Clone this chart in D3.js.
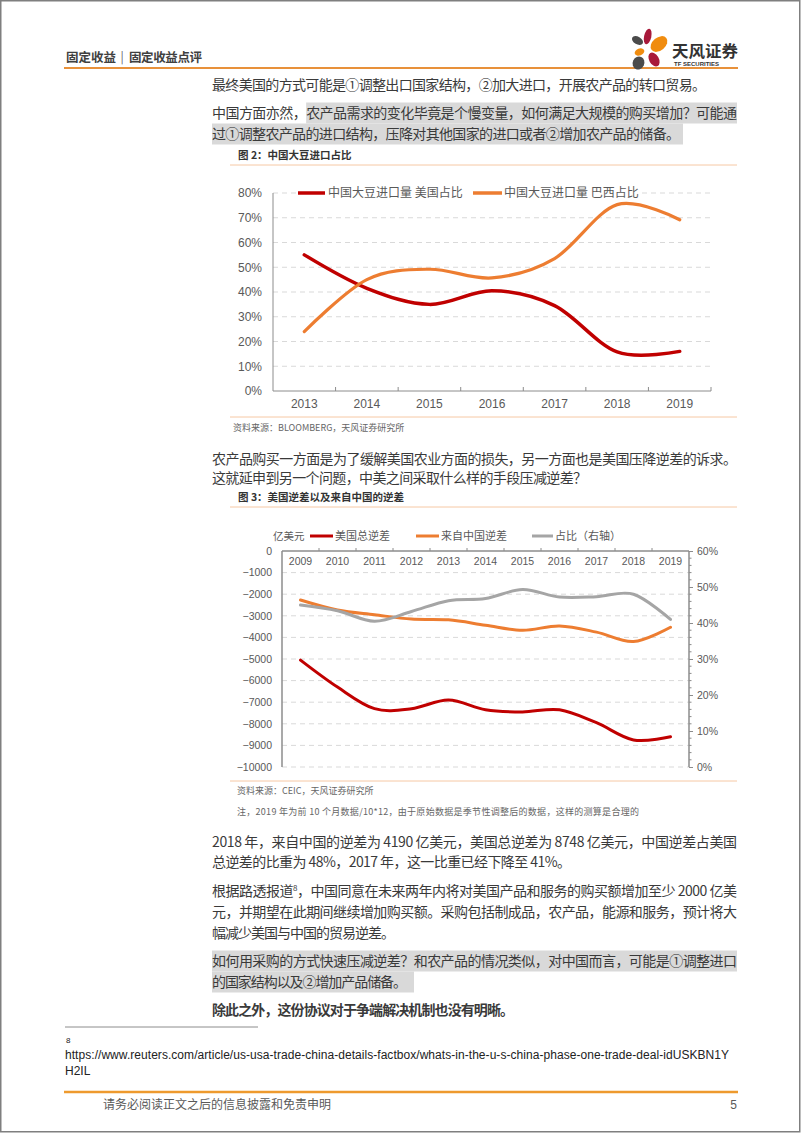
<!DOCTYPE html>
<html><head><meta charset="utf-8">
<script src="https://cdn.jsdelivr.net/npm/d3@7"></script>
<style>
html,body{margin:0;padding:0;background:#fff;}
svg{display:block;}
</style></head>
<body>
<svg id="page" width="802" height="1133"></svg>
<script>
// ---------- DATA ----------
const soyYears = ["2013","2014","2015","2016","2017","2018","2019"];
const soyUS = [0.55, 0.415, 0.35, 0.405, 0.345, 0.158, 0.16];
const soyBrazil = [0.24, 0.45, 0.492, 0.457, 0.535, 0.753, 0.692];
const soyTicks = [0, 0.1, 0.2, 0.3, 0.4, 0.5, 0.6, 0.7, 0.8];
const soyLegend = ["中国大豆进口量 美国占比", "中国大豆进口量 巴西占比"];

const defYears = ["2009","2010","2011","2012","2013","2014","2015","2016","2017","2018","2019"];
const defTotal = [-5050, -6300, -7300, -7300, -6900, -7350, -7450, -7350, -7950, -8748, -8600];
const defChina = [-2268, -2731, -2951, -3151, -3187, -3434, -3672, -3470, -3756, -4190, -3530];
const defShare = [0.45, 0.434, 0.405, 0.432, 0.462, 0.468, 0.493, 0.472, 0.473, 0.48, 0.41];
const defLeftTicks = [0, -1000, -2000, -3000, -4000, -5000, -6000, -7000, -8000, -9000, -10000];
const defRightTicks = [0, 0.1, 0.2, 0.3, 0.4, 0.5, 0.6];
const defLegend = ["美国总逆差", "来自中国逆差", "占比（右轴）"];
const defUnit = "亿美元";

// ---------- SETUP ----------
const svg = d3.select("#page");
const CJK = '"Noto Sans CJK SC", "Noto Sans", sans-serif';
const ARIAL = '"Liberation Sans", Arial, "Noto Sans CJK SC", sans-serif';
const RED = "#C00000", ORANGE = "#ED7D31", GRAY = "#A5A5A5";
const TXT = "#3a3a3a", LBL = "#595959";

// page frame
svg.append("rect").attr("x",0.75).attr("y",0.75).attr("width",799).attr("height",1131)
  .attr("fill","none").attr("stroke","#7f7f7f").attr("stroke-width",1.5);

// ---------- HEADER ----------
const hdr = svg.append("g").attr("font-family",CJK).attr("font-size",12.5).attr("fill","#404040");
hdr.append("text").attr("x",66).attr("y",61.5).attr("font-weight","bold").text("固定收益");
hdr.append("text").attr("x",122).attr("y",61).attr("font-size",12).attr("fill","#666").attr("text-anchor","middle").text("|");
hdr.append("text").attr("x",129).attr("y",61.5).attr("font-weight","bold").attr("textLength",73).attr("lengthAdjust","spacing").text("固定收益点评");
svg.append("line").attr("x1",64).attr("x2",738).attr("y1",68).attr("y2",68)
  .attr("stroke","#E8913A").attr("stroke-width",2);
// logo
const logo = svg.append("g");
[
  {cx:647.7, cy:36.5, rx:3.6, ry:8, r:12, c:"#A8193A"},
  {cx:659,   cy:44,   rx:9.5, ry:6.5, r:-40, c:"#F08C0F"},
  {cx:637.5, cy:40.5, rx:6,   ry:3.8, r:30, c:"#4B4B4B"},
  {cx:639.5, cy:52,   rx:5,   ry:3.4, r:-20, c:"#F08C0F"},
  {cx:654,   cy:59.5, rx:4.8, ry:7.5, r:-30, c:"#A8193A"},
  {cx:638.5, cy:63,   rx:5.8, ry:6.5, r:25, c:"#4B4B4B"}
].forEach(p => {
  logo.append("ellipse").attr("cx",0).attr("cy",0).attr("rx",p.rx).attr("ry",p.ry)
    .attr("fill",p.c).attr("transform",`translate(${p.cx},${p.cy}) rotate(${p.r})`);
});
logo.append("text").attr("x",672).attr("y",56.5).attr("font-family",CJK).attr("font-size",15.5)
  .attr("font-weight","bold").attr("fill","#333").attr("textLength",66).attr("lengthAdjust","spacingAndGlyphs").text("天风证券");
logo.append("text").attr("x",674).attr("y",66).attr("font-family",ARIAL).attr("font-size",6)
  .attr("font-weight","bold").attr("fill","#333").attr("textLength",45).attr("lengthAdjust","spacingAndGlyphs").text("TF SECURITIES");

// ---------- BODY TEXT ----------
function bodyLine(parts, cy, x1, x2, opts = {}) {
  const g = svg.append("g");
  const t = g.append("text").attr("x", x1).attr("y", cy + 5)
    .attr("font-family", CJK).attr("font-size", 14).attr("fill", TXT)
    .attr("textLength", x2 - x1).attr("lengthAdjust", "spacing");
  if (opts.bold) t.attr("font-weight", "bold");
  if (typeof parts === "string") t.text(parts);
  else parts.forEach(p => {
    const s = t.append("tspan").text(p.t);
    if (p.sup) s.attr("baseline-shift", "super").attr("font-size", 8);
  });
  if (opts.hl) {
    let hx = x1;
    if (opts.hlFrom) hx = t.node().getStartPositionOfChar(opts.hlFrom).x;
    const hx2 = opts.hlTo || x2;
    g.insert("rect", "text").attr("x", hx).attr("y", cy - 10.5).attr("width", hx2 - hx).attr("height", 21).attr("fill", "#D9D9D9");
  }
}
const BL = 212, BR = 737;
bodyLine("最终美国的方式可能是①调整出口国家结构，②加大进口，开展农产品的转口贸易。", 85, BL, 706);
bodyLine("中国方面亦然，农产品需求的变化毕竟是个慢变量，如何满足大规模的购买增加？可能通", 113, BL, BR, {hl:true, hlFrom:7, hlTo:BR});
bodyLine("过①调整农产品的进口结构，压降对其他国家的进口或者②增加农产品的储备。", 134, BL, 680, {hl:true, hlTo:683});
bodyLine("农产品购买一方面是为了缓解美国农业方面的损失，另一方面也是美国压降逆差的诉求。", 459, BL, BR);
bodyLine("这就延申到另一个问题，中美之间采取什么样的手段压减逆差？", 478, BL, 587);
bodyLine("2018 年，来自中国的逆差为 4190 亿美元，美国总逆差为 8748 亿美元，中国逆差占美国", 842, BL, BR);
bodyLine("总逆差的比重为 48%，2017 年，这一比重已经下降至 41%。", 862, BL, 571);
bodyLine([{t:"根据路透报道"},{t:"8",sup:true},{t:"，中国同意在未来两年内将对美国产品和服务的购买额增加至少 2000 亿美"}], 891, BL, BR);
bodyLine("元，并期望在此期间继续增加购买额。采购包括制成品，农产品，能源和服务，预计将大", 912, BL, BR);
bodyLine("幅减少美国与中国的贸易逆差。", 933, BL, 395);
bodyLine("如何用采购的方式快速压减逆差？和农产品的情况类似，对中国而言，可能是①调整进口", 961, BL, BR, {hl:true});
bodyLine("的国家结构以及②增加产品储备。", 982, BL, 407, {hl:true, hlTo:414});
bodyLine("除此之外，这份协议对于争端解决机制也没有明晰。", 1010, BL, 514, {bold:true});

function smallText(str, x, cy, size, opts = {}) {
  const t = svg.append("text").attr("x", x).attr("y", cy + size * 0.36)
    .attr("font-family", opts.font || CJK).attr("font-size", size).attr("fill", opts.fill || LBL).text(str);
  if (opts.bold) t.attr("font-weight", "bold");
  if (opts.anchor) t.attr("text-anchor", opts.anchor);
  if (opts.len) t.attr("textLength", opts.len).attr("lengthAdjust", "spacing");
  return t;
}
function frameLine(y) {
  svg.append("line").attr("x1",230).attr("x2",737).attr("y1",y).attr("y2",y)
    .attr("stroke","#F6C8A4").attr("stroke-width",1);
}

// ---------- CHART 1 ----------
smallText("图 2：中国大豆进口占比", 238, 155, 10.5, {bold:true, fill:"#333"});
frameLine(165);
frameLine(417);
smallText("资料来源：BLOOMBERG，天风证券研究所", 233, 428, 9, {fill:"#666"});

const c1 = {left:273, right:711, top:193, bottom:391};
const x1 = d3.scaleBand().domain(soyYears).range([c1.left, c1.right]);
const y1 = d3.scaleLinear().domain([0, 0.8]).range([c1.bottom, c1.top]);
const g1 = svg.append("g");
g1.selectAll("line.grid").data(soyTicks.filter(d => d > 0)).join("line").attr("class","grid")
  .attr("x1", c1.left).attr("x2", c1.right).attr("y1", d => y1(d)).attr("y2", d => y1(d))
  .attr("stroke", "#D9D9D9").attr("stroke-dasharray", "5,4");
const ya1 = g1.append("g").attr("transform", `translate(${c1.left},0)`)
  .call(d3.axisLeft(y1).tickValues(soyTicks).tickFormat(d3.format(".0%")).tickSize(0).tickPadding(11));
ya1.select(".domain").remove();
ya1.selectAll("text").attr("font-family", ARIAL).attr("font-size", 12).attr("fill", LBL);
const xa1 = g1.append("g").attr("transform", `translate(0,${c1.bottom})`)
  .call(d3.axisBottom(x1).tickSize(0).tickPadding(8));
xa1.select(".domain").remove();
xa1.selectAll("text").attr("font-family", ARIAL).attr("font-size", 12).attr("fill", LBL);
g1.append("line").attr("x1", c1.left).attr("x2", c1.left).attr("y1", c1.top).attr("y2", c1.bottom).attr("stroke", "#8C8C8C");
g1.append("line").attr("x1", c1.left).attr("x2", c1.right).attr("y1", c1.bottom).attr("y2", c1.bottom).attr("stroke", "#8C8C8C");
g1.selectAll("line.xt").data(d3.range(1, soyYears.length + 1)).join("line").attr("class","xt")
  .attr("x1", i => c1.left + i * x1.step()).attr("x2", i => c1.left + i * x1.step())
  .attr("y1", c1.bottom).attr("y2", c1.bottom - 4).attr("stroke", "#8C8C8C");

const cx1 = d => x1(d) + x1.bandwidth() / 2;
const line1 = d3.line().x(d => cx1(d[0])).y(d => y1(d[1])).curve(d3.curveCardinal.tension(0));
g1.append("path").attr("d", line1(soyYears.map((y, i) => [y, soyUS[i]])))
  .attr("fill", "none").attr("stroke", RED).attr("stroke-width", 3.5).attr("stroke-linecap", "round");
g1.append("path").attr("d", line1(soyYears.map((y, i) => [y, soyBrazil[i]])))
  .attr("fill", "none").attr("stroke", ORANGE).attr("stroke-width", 3.2).attr("stroke-linecap", "round");

// legend 1
const lg1 = g1.append("g");
lg1.append("rect").attr("x", 296).attr("y", 185).attr("width", 343).attr("height", 16).attr("fill", "#fff");
[[298, 325, 328, RED, soyLegend[0]], [473, 502, 504, ORANGE, soyLegend[1]]].forEach(([a, b, tx, c, s]) => {
  lg1.append("line").attr("x1", a).attr("x2", b).attr("y1", c1.top).attr("y2", c1.top).attr("stroke", c).attr("stroke-width", 3.5);
  lg1.append("text").attr("x", tx).attr("y", c1.top + 4.3).attr("font-family", CJK).attr("font-size", 12).attr("fill", LBL).text(s);
});

// ---------- CHART 2 ----------
smallText("图 3：美国逆差以及来自中国的逆差", 238, 497, 10.5, {bold:true, fill:"#333"});
frameLine(507);
frameLine(781);
smallText("资料来源：CEIC，天风证券研究所", 237, 791, 9, {fill:"#666"});
smallText("注，2019 年为前 10 个月数据/10*12，由于原始数据是季节性调整后的数据，这样的测算是合理的", 237, 812, 9, {fill:"#666", len:402});

const c2 = {left:282, right:689, top:551, bottom:767};
const x2 = d3.scaleBand().domain(defYears).range([c2.left, c2.right]);
const y2 = d3.scaleLinear().domain([-10000, 0]).range([c2.bottom, c2.top]);
const y2r = d3.scaleLinear().domain([0, 0.6]).range([c2.bottom, c2.top]);
const g2 = svg.append("g");
g2.selectAll("line.grid").data(defLeftTicks.filter(d => d < 0)).join("line").attr("class","grid")
  .attr("x1", c2.left).attr("x2", c2.right).attr("y1", d => y2(d)).attr("y2", d => y2(d))
  .attr("stroke", "#D9D9D9").attr("stroke-dasharray", "5,4");
const ya2 = g2.append("g").attr("transform", `translate(${c2.left},0)`)
  .call(d3.axisLeft(y2).tickValues(defLeftTicks).tickFormat(d3.format("d")).tickSize(0).tickPadding(10));
ya2.select(".domain").remove();
ya2.selectAll("text").attr("font-family", ARIAL).attr("font-size", 10.5).attr("fill", LBL);
const yr2 = g2.append("g").attr("transform", `translate(${c2.right},0)`)
  .call(d3.axisRight(y2r).tickValues(defRightTicks).tickFormat(d3.format(".0%")).tickSize(4).tickPadding(4));
yr2.select(".domain").remove();
yr2.selectAll("line").attr("stroke", "#8C8C8C");
yr2.selectAll("text").attr("font-family", ARIAL).attr("font-size", 10.5).attr("fill", LBL);
g2.selectAll("line.minor").data(d3.range(0, 61, 2).filter(v => v % 10 !== 0).map(v => v / 100)).join("line").attr("class","minor")
  .attr("x1", c2.right).attr("x2", c2.right + 2.5).attr("y1", d => y2r(d)).attr("y2", d => y2r(d)).attr("stroke", "#8C8C8C");
const xa2 = g2.append("g").attr("transform", `translate(0,${c2.top})`)
  .call(d3.axisBottom(x2).tickSize(0).tickPadding(7));
xa2.select(".domain").remove();
xa2.selectAll("text").attr("font-family", ARIAL).attr("font-size", 10.5).attr("fill", LBL);
g2.append("line").attr("x1", c2.left).attr("x2", c2.left).attr("y1", c2.top).attr("y2", c2.bottom).attr("stroke", "#8C8C8C").attr("stroke-width", 1.5);
g2.append("line").attr("x1", c2.right).attr("x2", c2.right).attr("y1", c2.top).attr("y2", c2.bottom).attr("stroke", "#8C8C8C").attr("stroke-width", 1.5);
g2.append("line").attr("x1", c2.left).attr("x2", c2.right).attr("y1", c2.top).attr("y2", c2.top).attr("stroke", "#8C8C8C").attr("stroke-width", 1.5);
g2.selectAll("line.xt").data(d3.range(1, defYears.length)).join("line").attr("class","xt")
  .attr("x1", i => c2.left + i * x2.step()).attr("x2", i => c2.left + i * x2.step())
  .attr("y1", c2.top).attr("y2", c2.top - 3).attr("stroke", "#8C8C8C");

const cx2 = d => x2(d) + x2.bandwidth() / 2;
const lineL = d3.line().x(d => cx2(d[0])).y(d => y2(d[1])).curve(d3.curveCardinal.tension(0));
const lineR = d3.line().x(d => cx2(d[0])).y(d => y2r(d[1])).curve(d3.curveCardinal.tension(0));
g2.append("path").attr("d", lineL(defYears.map((y, i) => [y, defTotal[i]])))
  .attr("fill", "none").attr("stroke", RED).attr("stroke-width", 3).attr("stroke-linecap", "round");
g2.append("path").attr("d", lineL(defYears.map((y, i) => [y, defChina[i]])))
  .attr("fill", "none").attr("stroke", ORANGE).attr("stroke-width", 3).attr("stroke-linecap", "round");
g2.append("path").attr("d", lineR(defYears.map((y, i) => [y, defShare[i]])))
  .attr("fill", "none").attr("stroke", GRAY).attr("stroke-width", 3).attr("stroke-linecap", "round");

// legend 2
const lg2 = g2.append("g");
lg2.append("text").attr("x", 273).attr("y", 540).attr("font-family", CJK).attr("font-size", 10.5).attr("fill", LBL).text(defUnit);
[[310, 333, 335, RED, defLegend[0]], [416, 439, 441, ORANGE, defLegend[1]], [532, 553, 555, GRAY, defLegend[2]]].forEach(([a, b, tx, c, s]) => {
  lg2.append("line").attr("x1", a).attr("x2", b).attr("y1", 536).attr("y2", 536).attr("stroke", c).attr("stroke-width", 3);
  lg2.append("text").attr("x", tx).attr("y", 540).attr("font-family", CJK).attr("font-size", 11).attr("fill", LBL).text(s);
});

// ---------- FOOTNOTE & FOOTER ----------
svg.append("line").attr("x1",65).attr("x2",258).attr("y1",1027).attr("y2",1027).attr("stroke","#8c8c8c").attr("stroke-width",1);
smallText("8", 66, 1040, 8, {font:ARIAL, fill:"#222"});
smallText("https://www.reuters.com/article/us-usa-trade-china-details-factbox/whats-in-the-u-s-china-phase-one-trade-deal-idUSKBN1Y", 65, 1055, 12, {font:ARIAL, fill:"#222", len:664});
smallText("H2IL", 65, 1071, 12, {font:ARIAL, fill:"#222"});
svg.append("line").attr("x1",64).attr("x2",738).attr("y1",1092).attr("y2",1092).attr("stroke","#EE9A2E").attr("stroke-width",2.5);
smallText("请务必阅读正文之后的信息披露和免责申明", 103, 1105, 12, {fill:LBL});
smallText("5", 737, 1105, 12, {font:ARIAL, fill:LBL, anchor:"end"});
</script>
</body></html>
